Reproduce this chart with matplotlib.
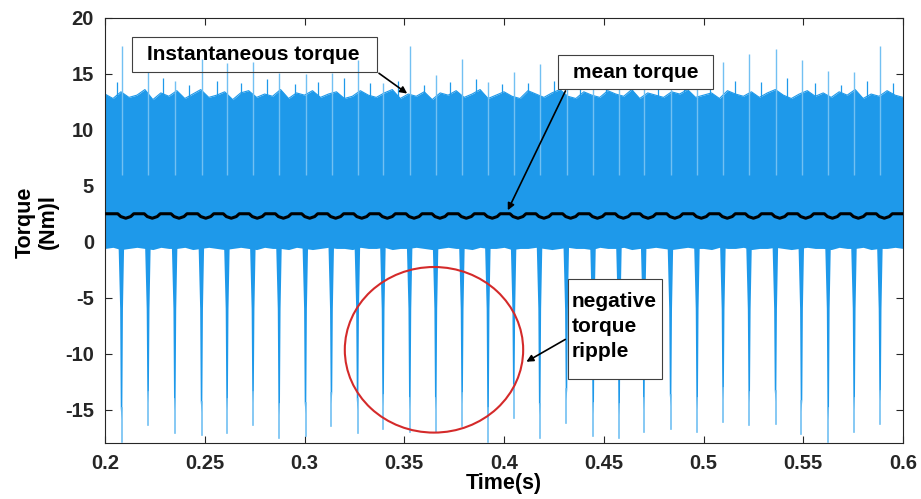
import numpy as np
import matplotlib
matplotlib.use("Agg")
import matplotlib.pyplot as plt
from matplotlib.patches import Ellipse, Rectangle

plt.rcParams['font.family'] = ['Liberation Sans', 'DejaVu Sans']
plt.rcParams['font.weight'] = 'bold'
plt.rcParams['axes.unicode_minus'] = False

# ---------------- data ----------------
# time of each commutation event (negative torque spike)
spike_t = [0.2084, 0.2217, 0.2351, 0.2485, 0.2613, 0.2743, 0.2874, 0.3006, 0.3136, 0.3267,
           0.3395, 0.3529, 0.3659, 0.3791, 0.3921, 0.4050, 0.4180, 0.4314, 0.4448, 0.4578,
           0.4702, 0.4836, 0.4969, 0.5099, 0.5230, 0.5362, 0.5492, 0.5626, 0.5756, 0.5886]
# depth of each negative spike (Nm)
neg_depth = [-17.9, -16.4, -17.1, -17.3, -17.1, -16.4, -17.5, -17.4, -16.5, -17.1,
             -16.7, -17.0, -17.0, -16.5, -17.9, -15.8, -17.5, -16.2, -17.4, -17.5,
             -17.0, -16.7, -17.0, -16.1, -16.4, -16.3, -17.2, -17.9, -17.0, -16.3]
# tallest positive peak next to each event (Nm)
pos_peak = [17.5, 15.2, 14.4, 16.3, 16.0, 16.1, 15.1, 15.0, 15.1, 16.2,
            14.2, 17.5, 14.9, 16.3, 14.3, 15.2, 15.9, 14.2, 14.6, 14.5,
            14.5, 14.6, 14.5, 16.1, 16.8, 17.2, 16.2, 15.3, 15.2, 17.5]
# smaller extra peaks above the band
minor_t = [0.2060, 0.2290, 0.2420, 0.2560, 0.2680, 0.2810, 0.2950, 0.3070, 0.3200, 0.3330,
           0.3470, 0.3600, 0.3730, 0.3860, 0.3990, 0.4120, 0.4250, 0.4380, 0.4510, 0.4640,
           0.4770, 0.4900, 0.5030, 0.5160, 0.5290, 0.5420, 0.5560, 0.5690, 0.5820, 0.5950]
minor_peak = [14.3, 14.6, 14.0, 14.4, 14.2, 14.5, 14.1, 14.3, 14.6, 14.2,
              14.4, 14.0, 14.3, 14.5, 14.1, 14.2, 14.4, 14.2, 14.0, 14.3,
              14.5, 14.2, 14.1, 14.4, 14.3, 14.6, 14.2, 14.0, 14.4, 14.2]
# upper envelope of the dense torque band, sampled every 4 ms from 0.2 s to 0.6 s
env_t = np.round(np.arange(0.2, 0.6001, 0.004), 4)
upper_env = [13.2, 12.8, 13.4, 12.9, 13.1, 13.6, 12.7, 13.3, 13.0, 13.5,
             12.8, 13.2, 13.6, 12.9, 13.1, 13.4, 12.7, 13.3, 13.5, 12.9,
             13.2, 13.0, 13.6, 12.8, 13.3, 13.1, 13.5, 12.9, 13.2, 13.4,
             12.8, 13.0, 13.5, 13.1, 12.9, 13.3, 13.6, 12.8, 13.2, 13.0,
             13.4, 12.7, 13.3, 13.1, 13.5, 12.9, 13.2, 13.6, 12.8, 13.1,
             13.4, 13.0, 12.8, 13.5, 13.2, 12.9, 13.3, 13.6, 13.0, 12.8,
             13.4, 13.1, 12.9, 13.5, 13.2, 13.0, 13.6, 12.8, 13.3, 13.1,
             12.9, 13.4, 13.2, 13.6, 12.9, 13.1, 13.3, 12.8, 13.5, 13.2,
             13.0, 13.4, 12.9, 13.3, 13.6, 13.1, 12.8, 13.2, 13.5, 13.0,
             13.3, 12.9, 13.4, 13.1, 13.6, 12.8, 13.2, 13.0, 13.5, 13.1, 12.9]
lower_env = [-0.6, -0.5, -0.7, -0.6, -0.5, -0.6, -0.7, -0.5, -0.6, -0.6,
             -0.5, -0.7, -0.6, -0.5, -0.6, -0.7, -0.6, -0.5, -0.6, -0.7,
             -0.5, -0.6, -0.6, -0.7, -0.5, -0.6, -0.7, -0.6, -0.5, -0.6,
             -0.6, -0.7, -0.5, -0.6, -0.6, -0.5, -0.7, -0.6, -0.6, -0.5,
             -0.6, -0.7, -0.6, -0.5, -0.6, -0.6, -0.7, -0.5, -0.6, -0.6,
             -0.5, -0.7, -0.6, -0.6, -0.5, -0.6, -0.7, -0.6, -0.5, -0.6,
             -0.6, -0.7, -0.5, -0.6, -0.6, -0.5, -0.7, -0.6, -0.6, -0.5,
             -0.6, -0.7, -0.6, -0.5, -0.6, -0.6, -0.7, -0.5, -0.6, -0.6,
             -0.5, -0.7, -0.6, -0.6, -0.5, -0.6, -0.7, -0.6, -0.5, -0.6,
             -0.6, -0.7, -0.5, -0.6, -0.6, -0.5, -0.7, -0.6, -0.6, -0.5, -0.6]
# mean torque: flat level and the dip reached after each event
mean_level = 2.5
mean_dip = 2.1

x_ticks = [0.2, 0.25, 0.3, 0.35, 0.4, 0.45, 0.5, 0.55, 0.6]
x_ticklabels = ['0.2', '0.25', '0.3', '0.35', '0.4', '0.45', '0.5', '0.55', '0.6']
y_ticks = [-15, -10, -5, 0, 5, 10, 15, 20]

# ---------------- figure ----------------
fig = plt.figure(figsize=(9.21, 4.99), dpi=100)
ax = fig.add_axes([0.114, 0.112, 0.8665, 0.852])

band_c = '#1e99ea'
light_c = '#72c0f2'

ax.fill_between(env_t, lower_env, upper_env, color=band_c, lw=0, zorder=2)
ax.plot(env_t, upper_env, color=band_c, lw=0.8, zorder=2)

# positive peaks
ax.vlines(spike_t, 6, pos_peak, color=light_c, lw=1.0, zorder=3)
ax.vlines(minor_t, 8, minor_peak, color=band_c, lw=0.9, zorder=3)

# negative spikes
for ts, d in zip(spike_t, neg_depth):
    xs = [ts - 0.0016, ts + 0.0012, ts + 0.0006, ts + 0.0003, ts - 0.0001, ts - 0.0005, ts - 0.0008]
    ys = [-0.3, -0.3, -6.0, d + 3.0, d + 2.0, d + 3.0, -6.0]
    ax.fill(xs, ys, color=band_c, lw=0, zorder=3)
    ax.plot([ts - 0.0001, ts - 0.0001], [d + 3.0, d], color=light_c, lw=1.2, zorder=3)

# mean torque line
mx, my = [0.2], [mean_level]
for ts in spike_t:
    c = ts + 0.002
    mx += [c - 0.0040, c - 0.0025, c, c + 0.0025, c + 0.0040]
    my += [mean_level, (mean_level + mean_dip) / 2 - 0.05, mean_dip,
           (mean_level + mean_dip) / 2 - 0.05, mean_level]
mx.append(0.6); my.append(mean_level)
ax.plot(mx, my, color='black', lw=2.2, zorder=5)

# axes styling
ax.set_xlim(0.2, 0.6)
ax.set_ylim(-18, 20)
ax.set_xticks(x_ticks)
ax.set_xticklabels(x_ticklabels)
ax.set_yticks(y_ticks)
ax.tick_params(direction='in', top=True, right=True, length=5, width=0.8,
               labelsize=14.5, colors='#262626', pad=8)
for s in ax.spines.values():
    s.set_color('#262626')
    s.set_linewidth(0.8)
ax.set_xlabel('Time(s)', fontsize=15.5, fontweight='bold', labelpad=0)
ax.set_ylabel('Torque\n(Nm)l', fontsize=15.5, fontweight='bold', linespacing=1.1)
ax.yaxis.set_label_coords(-0.058, 0.52)

# annotations
fs = 15
ax.add_patch(Rectangle((0.2134, 15.14), 0.1228, 3.16, fill=False, ec='#404040', lw=0.8, zorder=6))
ax.text(0.2745, 16.7, 'Instantaneous torque', fontsize=fs, fontweight='bold',
        ha='center', va='center', zorder=7)
ax.annotate('', xy=(0.3526, 13.1), xytext=(0.3362, 15.2),
            arrowprops=dict(arrowstyle='-|>', color='black', lw=1.2, mutation_scale=10), zorder=7)

ax.add_patch(Rectangle((0.4271, 13.66), 0.0777, 3.07, fc='white', ec='#404040', lw=0.8, zorder=6))
ax.text(0.4660, 15.1, 'mean torque', fontsize=fs, fontweight='bold',
        ha='center', va='center', zorder=7)
ax.annotate('', xy=(0.4013, 2.59), xytext=(0.4314, 13.7),
            arrowprops=dict(arrowstyle='-|>', color='black', lw=1.2, mutation_scale=10), zorder=7)

ax.add_patch(Rectangle((0.4319, -12.28), 0.0471, 8.94, fc='white', ec='#404040', lw=0.8, zorder=6))
ax.text(0.4339, -7.6, 'negative\ntorque\nripple', fontsize=fs, fontweight='bold',
        ha='left', va='center', linespacing=1.4, zorder=7)
ax.annotate('', xy=(0.4100, -10.85), xytext=(0.4319, -8.61),
            arrowprops=dict(arrowstyle='-|>', color='black', lw=1.2, mutation_scale=10), zorder=7)

ax.add_patch(Ellipse((0.3649, -9.66), 0.0894, 14.8, fill=False, ec='#d42a2a', lw=1.5, zorder=6))

fig.savefig('out.png', dpi=100)
